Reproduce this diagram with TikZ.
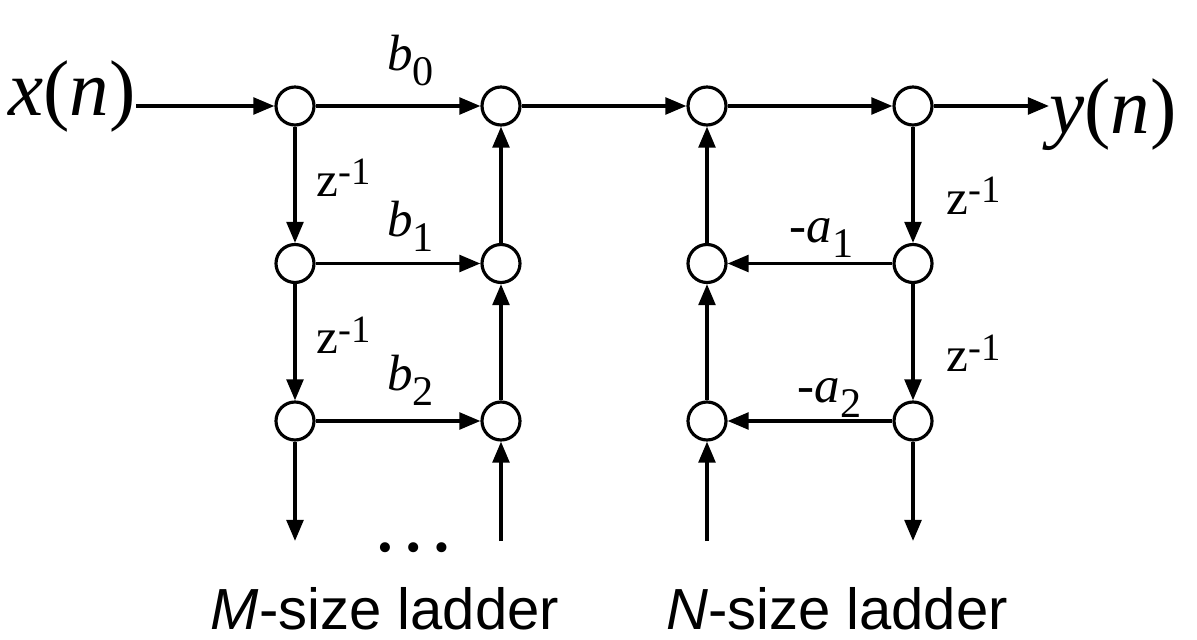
\documentclass[tikz,border=0pt]{standalone}
\usepackage{fontspec}
\setmainfont{Liberation Serif}
\newfontfamily\sigfont{Liberation Serif}
\newfontfamily\ladderfont{Liberation Sans}
\usetikzlibrary{arrows.meta,positioning,calc}

\newcommand\coef[2]{#1\raisebox{-8.5pt}{\fontsize{24}{24}\selectfont #2}}
\newcommand\zinv{z\raisebox{6.5pt}{\fontsize{22}{22}\selectfont -1}}
\newcommand\sigtext[2]{\scalebox{2}{\textit{#1}(\textit{#2})}}

\begin{document}
\begin{tikzpicture}[
  node distance=3.15cm and 4.12cm, on grid,
  sum/.style={draw,circle,line width=1.8pt,minimum size=0.76cm,inner sep=0pt},
  arr/.style={-{Triangle[length=12pt,width=9.5pt]},line width=2pt},
  sig/.style={inner sep=0pt,text height=22pt,text depth=11pt,font=\sigfont\fontsize{22.5}{23}\selectfont},
  gain/.style={anchor=base,font=\sigfont\fontsize{29}{30}\selectfont},
  dly/.style={anchor=base west,font=\sigfont\fontsize{28}{28}\selectfont},
  captext/.style={anchor=base,font=\ladderfont\fontsize{33}{34}\selectfont}
]
\useasboundingbox (0,0) rectangle (23.94,-12.8);

% M-size ladder
\node[sum] (bl0) at (5.9,-2.12) {};
\node[sum,below=of bl0] (bl1) {};
\node[sum,below=of bl1] (bl2) {};
\node[sum,right=of bl0] (br0) {};
\node[sum,below=of br0] (br1) {};
\node[sum,below=of br1] (br2) {};
\coordinate[below=2.4cm of bl2] (blend);
\coordinate[below=2.4cm of br2] (brend);

% N-size ladder
\node[sum,right=of br0] (al0) {};
\node[sum,below=of al0] (al1) {};
\node[sum,below=of al1] (al2) {};
\node[sum,right=of al0] (ar0) {};
\node[sum,below=of ar0] (ar1) {};
\node[sum,below=of ar1] (ar2) {};
\coordinate[below=2.4cm of al2] (alend);
\coordinate[below=2.4cm of ar2] (arend);

% input and output
\node[sig,anchor=east] (xin) at ([xshift=-3.18cm]bl0) {\sigtext{x}{n}};
\node[sig,anchor=west] (yout) at ([xshift=2.72cm,yshift=-0.36cm]ar0) {\sigtext{y}{n}};

% top line
\draw[arr] (xin) -- (bl0);
\draw[arr] (bl0) -- node[gain,xshift=0.25cm,yshift=0.7cm] {\coef{\textit{b}}{0}} (br0);
\draw[arr] (br0) -- (al0);
\draw[arr] (al0) -- (ar0);
\draw[arr] (ar0) -- (ar0 -| yout.west);

% feed-forward side
\draw[arr] (bl0) -- node[dly,xshift=0.28cm,yshift=-0.23cm] {\zinv} (bl1);
\draw[arr] (bl1) -- node[dly,xshift=0.28cm,yshift=-0.23cm] {\zinv} (bl2);
\draw[arr] (bl2) -- (blend);
\draw[arr] (bl1) -- node[gain,xshift=0.25cm,yshift=0.54cm] {\coef{\textit{b}}{1}} (br1);
\draw[arr] (bl2) -- node[gain,xshift=0.25cm,yshift=0.6cm] {\coef{\textit{b}}{2}} (br2);
\draw[arr] (brend) -- (br2);
\draw[arr] (br2) -- (br1);
\draw[arr] (br1) -- (br0);

% feedback side
\draw[arr] (alend) -- (al2);
\draw[arr] (al2) -- (al1);
\draw[arr] (al1) -- (al0);
\draw[arr] (ar0) -- node[dly,xshift=0.52cm,yshift=-0.59cm] {\zinv} (ar1);
\draw[arr] (ar1) -- node[dly,xshift=0.52cm,yshift=-0.59cm] {\zinv} (ar2);
\draw[arr] (ar2) -- (arend);
\draw[arr] (ar1) -- node[gain,xshift=0.23cm,yshift=0.42cm] {\coef{-\textit{a}}{1}} (al1);
\draw[arr] (ar2) -- node[gain,xshift=0.39cm,yshift=0.36cm] {\coef{-\textit{a}}{2}} (al2);

% dots and captions
\node[anchor=base,font=\sigfont\fontsize{48}{48}\selectfont] (dots) at ($(bl2)!0.5!(br2)+(0.32,-2.6)$) {…};
\node[captext] (mcap) at ($(bl2)!0.5!(br2)+(-0.26,-4.16)$) {\textit{M}-size ladder};
\node[captext] (ncap) at ($(al2)!0.5!(ar2)+(0.54,-4.16)$) {\textit{N}-size ladder};
\end{tikzpicture}
\end{document}
